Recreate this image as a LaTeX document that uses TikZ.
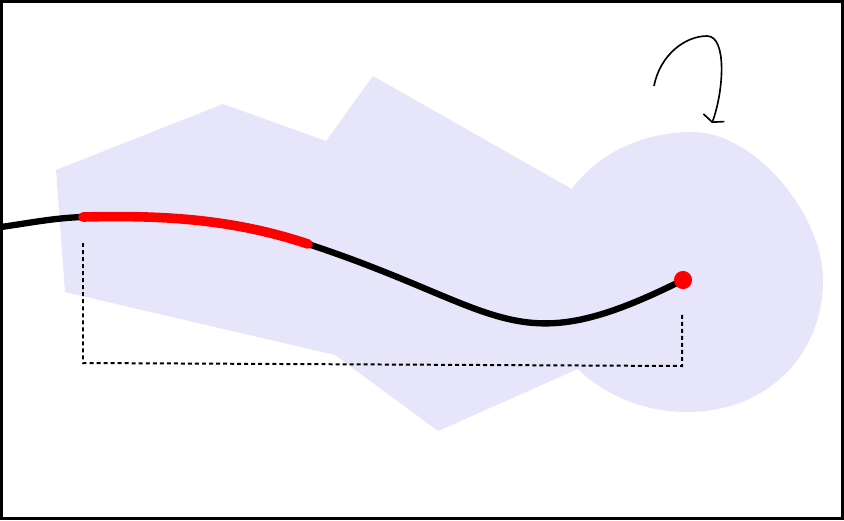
\documentclass[tikz,border=0pt]{standalone}
\usetikzlibrary{arrows.meta}
\definecolor{lav}{RGB}{231,229,249}
\definecolor{myred}{RGB}{255,0,0}
\tikzset{
  region/.style={fill=lav, draw=none},
  trackline/.style={line width=5.4pt, black, line cap=round},
  redtrack/.style={line width=8.2pt, myred, line cap=round},
  guide/.style={line width=1.7pt, dash pattern=on 3.4pt off 2.6pt},
  turnarrow/.style={line width=1.4pt, -{Straight Barb[length=4pt,width=19pt,line width=1.4pt]}},
}
\begin{document}
\begin{tikzpicture}[x=0.03cm,y=-0.03cm]
\useasboundingbox (0,0) rectangle (844,520);
% lavender region
\fill[region] (56,170) -- (223,104) -- (326,141) -- (373,76) -- (570,188) -- (630,280) -- (580,368) -- (438,431) -- (335,355) -- (65,292) -- cycle;
\fill[region] (693,132) .. controls (754,132) and (823,214) .. (823,280)
  .. controls (823,355) and (767,412) .. (687,412)
  .. controls (607,412) and (540,354) .. (540,284)
  .. controls (540,204) and (598,132) .. (693,132) -- cycle;
% coordinates
\coordinate (s0) at (-6,228);
\coordinate (s1) at (83,217);
\coordinate (s2) at (308,244);
\coordinate (s3) at (683,280);
% dashed guide
\coordinate (g1) at (83,243);
\coordinate (g2) at (83,363);
\coordinate (g3) at (682,366);
\coordinate (g4) at (682,312);
\draw[guide] (g1) -- (g2) -- (g3) -- (g4);
% black track
\draw[trackline] (s0) .. controls (30,223) and (53,218) .. (s1)
  .. controls (163,215) and (233,219) .. (s2)
  .. controls (508,310) and (513,365) .. (s3);
% red part
\draw[redtrack] (s1) .. controls (163,215) and (233,219) .. (s2);
\node[circle, fill=myred, inner sep=0pt, minimum size=15.5pt] (dot) at (s3) {};
% turn arrow
\coordinate (a0) at (654,86);
\coordinate (a1) at (707,36);
\coordinate (a2) at (712,123);
\draw[turnarrow] (a0) .. controls (660,55) and (685,36) .. (a1) .. controls (727,36) and (724,90) .. (a2);
% frame
\draw[line width=2.6pt] (1.5,1.5) rectangle (842.5,518.5);
\end{tikzpicture}
\end{document}
